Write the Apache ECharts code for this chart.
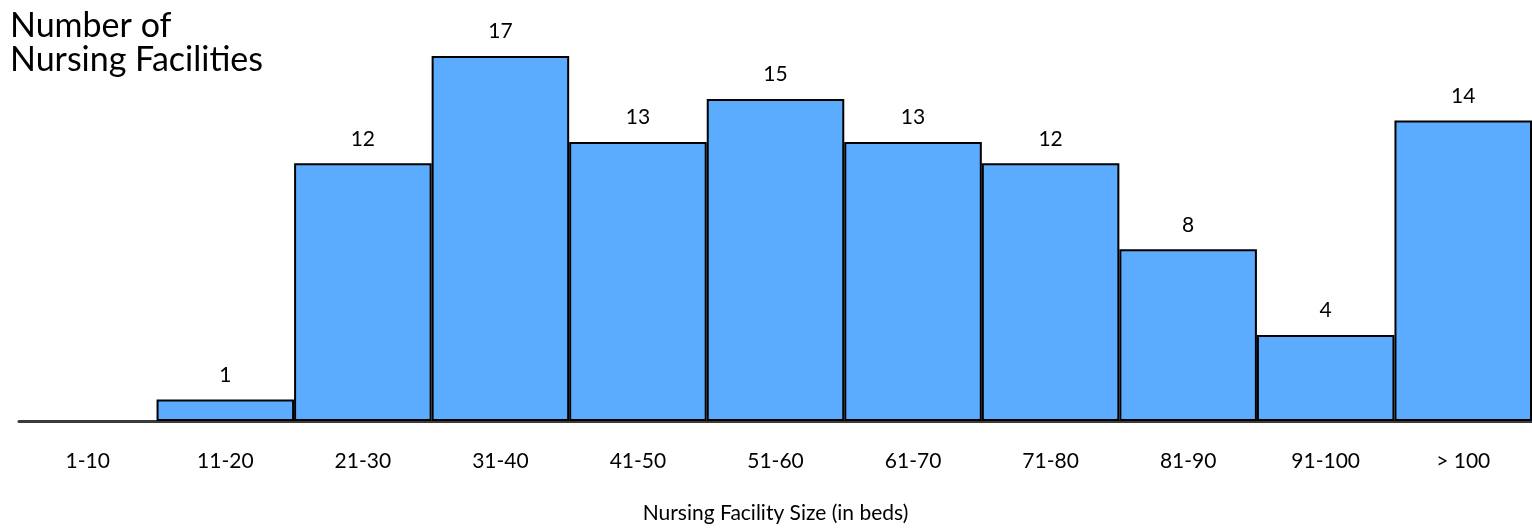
<!DOCTYPE html>
<html>
<head>
<meta charset="utf-8">
<script src="https://cdn.jsdelivr.net/npm/echarts@6/dist/echarts.min.js"></script>
<style>
  html, body { margin: 0; padding: 0; background: #fff; overflow: hidden; }
  #chart { width: 1532px; height: 530px; }
</style>
</head>
<body>
<div id="chart"></div>
<script>
// Bed-count bands and the number of nursing facilities in each
const sizeBands = ['1-10', '11-20', '21-30', '31-40', '41-50', '51-60', '61-70', '71-80', '81-90', '91-100', '> 100'];
const facilityCounts = [0, 1, 12, 17, 13, 15, 13, 12, 8, 4, 14];

const FONT = 'Lato, "Open Sans", sans-serif';

const chart = echarts.init(document.getElementById('chart'), null, { width: 1532, height: 530 });
chart.setOption({
  animation: false,
  title: {
    text: 'Number of\nNursing Facilities',
    left: 5,
    top: 4,
    textStyle: { fontFamily: FONT, fontSize: 34, fontWeight: 'normal', color: '#000', lineHeight: 34 }
  },
  // the last band runs on past the right edge of the canvas
  grid: { left: 19, top: 56, bottom: 109, right: -8, containLabel: false },
  xAxis: {
    type: 'category',
    data: sizeBands,
    axisLine: { lineStyle: { color: '#3a3a3a', width: 3 } },
    axisTick: { show: false },
    axisLabel: { fontFamily: FONT, fontSize: 21, color: '#000', margin: 30 },
    name: 'Nursing Facility Size (in beds)',
    nameLocation: 'middle',
    nameGap: 82,
    nameTextStyle: { fontFamily: FONT, fontSize: 21, color: '#000' }
  },
  yAxis: { type: 'value', min: 0, max: 17, show: false, splitLine: { show: false } },
  series: [{
    type: 'bar',
    // an empty band gets neither an outline nor a value label
    data: facilityCounts.map(v => v === 0
      ? { value: v, label: { show: false }, itemStyle: { borderWidth: 0 } }
      : v),
    barCategoryGap: 0,
    itemStyle: { color: '#5BABFF', borderColor: '#000', borderWidth: 2 },
    label: { show: true, position: 'top', distance: 14, fontFamily: FONT, fontSize: 21, color: '#000' }
  }]
});
</script>
</body>
</html>
